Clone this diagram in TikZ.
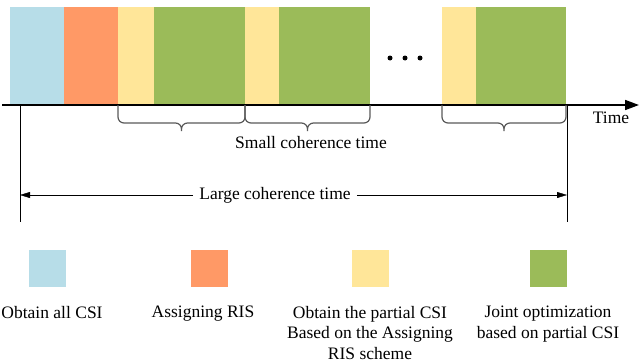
\documentclass[tikz,border=0pt]{standalone}
\usepackage{fontspec}
\setmainfont{Liberation Serif}
\usepackage{xcolor}
\usepackage{tikz}
\usetikzlibrary{arrows.meta, positioning, calc}

\definecolor{csiblue}{HTML}{B7DDE8}
\definecolor{risorange}{HTML}{FF9966}
\definecolor{partyellow}{HTML}{FFE699}
\definecolor{optgreen}{HTML}{9BBB59}

\begin{document}
\begin{tikzpicture}[
  x=1pt, y=-1pt,
  >={Triangle[length=10pt,width=6pt]},
  every node/.style={font=\fontsize{17.5}{20.5}\selectfont},
  slot/.style={rectangle, inner sep=0pt, outer sep=0pt, minimum height=98pt},
  key/.style={rectangle, inner sep=0pt, outer sep=0pt, minimum width=37pt, minimum height=37pt},
  keytext/.style={anchor=north, align=center, inner sep=0pt},
  brc/.style={draw=black!65, line width=1.2pt, rounded corners=6pt},
]
  \useasboundingbox (0,0) rectangle (640,364);

  % time slots
  \node[slot, fill=csiblue, minimum width=54pt] (all) at (37,56) {};
  \node[slot, fill=risorange, minimum width=54pt, right=0pt of all] (ris) {};
  \node[slot, fill=partyellow, minimum width=36pt, right=0pt of ris] (partA) {};
  \node[slot, fill=optgreen, minimum width=91pt, right=0pt of partA] (optA) {};
  \node[slot, fill=partyellow, minimum width=34pt, right=0pt of optA] (partB) {};
  \node[slot, fill=optgreen, minimum width=91pt, right=0pt of partB] (optB) {};
  \node[slot, fill=partyellow, minimum width=34pt] (partN) at (459,56) {};
  \node[slot, fill=optgreen, minimum width=90pt, right=0pt of partN] (optN) {};

  \foreach \i/\x in {1/390,2/405,3/420}
    \node[circle, fill=black, inner sep=0pt, minimum size=5pt] (dot\i) at (\x,58) {};

  % time axis
  \coordinate (axstart) at (2,105);
  \coordinate (axend) at (639,105);
  \draw[line width=1.6pt, -{Triangle[length=14pt,width=10pt]}] (axstart) -- (axend);
  \node (time) at (611,118) {Time};

  % small coherence time
  \foreach \l/\r in {partA/optA, partB/optB, partN/optN} {
    \coordinate (tip-\l) at ($(\l.south west)!0.5!(\r.south east)+(0,26)$);
    \draw[brc] (\l.south west) -- ++(0,18) -| (tip-\l)
               (\r.south east) -- ++(0,18) -| (tip-\l);
  }
  \node (small) at (311,143) {Small coherence time};

  % large coherence time
  \coordinate (lfoot) at (20,222);
  \coordinate (rfoot) at (567,222);
  \draw (all.south west -| lfoot) -- (lfoot);
  \draw (optN.south east -| rfoot) -- (rfoot);
  \node[fill=white, inner xsep=6pt] (large) at (275,195) {Large coherence time};
  \draw[->] (large) -- (large -| lfoot);
  \draw[->] (large) -- (large -| rfoot);

  % legend
  \node[key, fill=csiblue] (keyall) at (47,268) {};
  \node[key, fill=risorange] (keyris) at (209,268) {};
  \node[key, fill=partyellow] (keypart) at (370,268) {};
  \node[key, fill=optgreen] (keyopt) at (548,268) {};
  \node[keytext] (txtall) at (52,306) {Obtain all CSI};
  \node[keytext] (txtris) at (203,306) {Assigning RIS};
  \node[keytext] (txtpart) at (370,306) {Obtain the partial CSI\\Based on the Assigning\\RIS scheme};
  \node[keytext] (txtopt) at (548,306) {Joint optimization\\based on partial CSI};

\end{tikzpicture}
\end{document}
